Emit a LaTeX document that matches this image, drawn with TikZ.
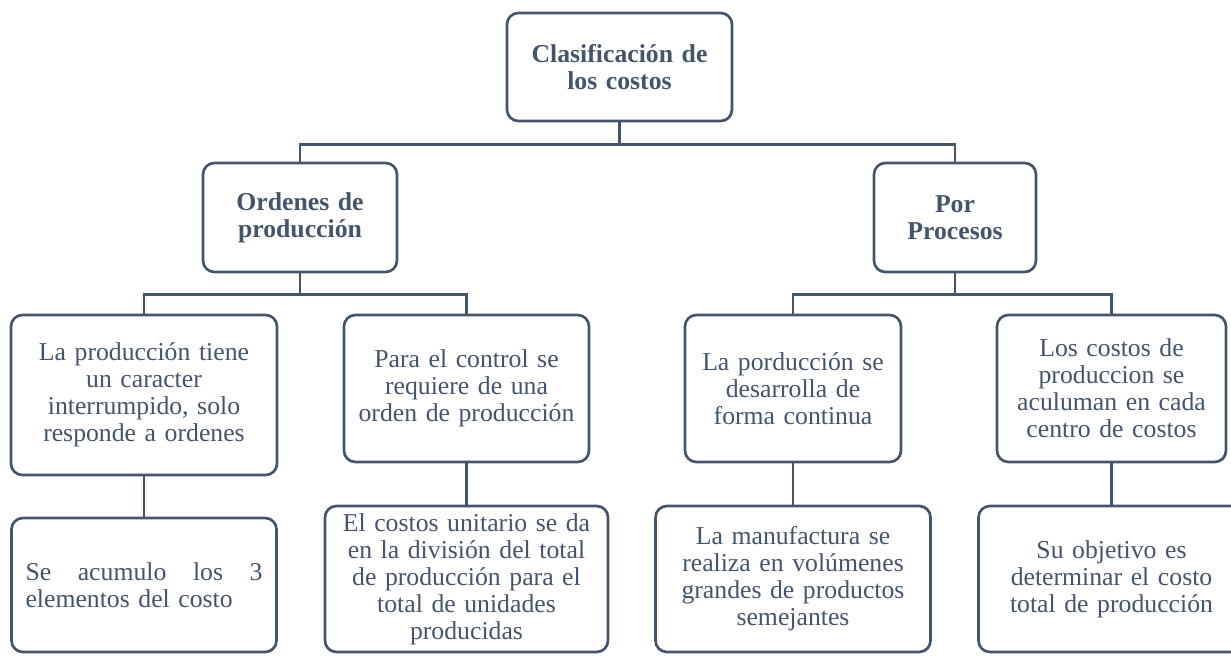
\documentclass[tikz,border=0pt]{standalone}
\usepackage{fontspec}
\setmainfont{Liberation Serif}
\usepackage{tikz}
\usetikzlibrary{positioning}
\definecolor{pizarra}{HTML}{44546A}

\begin{document}
\begin{tikzpicture}[x=0.75pt, y=-0.75pt,
    caja/.style={draw=pizarra, text=pizarra, line width=2pt, rounded corners=8.5pt,
                 align=center, inner xsep=6pt, inner ysep=2pt,
                 font=\fontsize{19.3}{20.25}\selectfont},
    titulo/.style={caja, font=\fontsize{19.3}{20.25}\selectfont\bfseries},
    rama/.style={draw=pizarra, line width=2pt}]
    \useasboundingbox (0,0) rectangle (1231,656);

    % root box
    \node[titulo, text width=156.75pt, minimum height=81pt] (clasif) at (619.5,67) {
        Clasificación de\\los costos
    };

    % second level
    \node[titulo, text width=133.5pt, minimum height=81.75pt] (ordenes) at (300,217.5) {
        Ordenes de\\producción
    };
    \node[titulo, text width=109.5pt, minimum height=81.75pt] (procesos) at (955,217.5) {
        Por\\Procesos
    };

    % ordenes de produccion branch
    \node[caja, text width=187.5pt, minimum height=120pt] (ordA) at (144,395) {
        La producción tiene\\un caracter\\interrumpido, solo\\responde a ordenes
    };
    \node[caja, text width=171.75pt, minimum height=110.25pt] (ordB) at (466.5,388.5) {
        Para el control se\\requiere de una\\orden de producción
    };
    \node[caja, align=left, inner xsep=10.5pt, text width=177.75pt, minimum height=100.5pt] (ordA2) at (144,585) {
        Se\hfill acumulo\hfill los\hfill 3\\elementos del costo
    };
    \node[caja, text width=200.25pt, minimum height=109.5pt] (ordB2) at (466.5,579) {
        El costos unitario se da\\en la división del total\\de producción para el\\total de unidades\\producidas
    };

    % por procesos branch
    \node[caja, text width=150pt, minimum height=110.25pt] (procA) at (793,388.5) {
        La porducción se\\desarrolla de\\forma continua
    };
    \node[caja, text width=159.75pt, minimum height=110.25pt] (procB) at (1111.5,388.5) {
        Los costos de\\produccion se\\aculuman en cada\\centro de costos
    };
    \node[caja, text width=194.25pt, minimum height=109.5pt] (procA2) at (793,579) {
        La manufactura se\\realiza en volúmenes\\grandes de productos\\semejantes
    };
    \node[caja, text width=187.5pt, minimum height=109.5pt] (procB2) at (1111.5,579) {
        Su objetivo es\\determinar el costo\\total de producción
    };

    % connectors
    \draw[rama] (clasif.south) -- ++(0,22) -| (ordenes.north);
    \draw[rama] (clasif.south) ++(0,22) -| (procesos.north);
    \draw[rama] (ordenes.south) -- ++(0,21) -| (ordA.north);
    \draw[rama] (ordenes.south) ++(0,21) -| (ordB.north);
    \draw[rama] (procesos.south) -- ++(0,21) -| (procA.north);
    \draw[rama] (procesos.south) ++(0,21) -| (procB.north);
    \draw[rama] (ordA.south) -- (ordA2.north);
    \draw[rama] (ordB.south) -- (ordB2.north);
    \draw[rama] (procA.south) -- (procA2.north);
    \draw[rama] (procB.south) -- (procB2.north);
\end{tikzpicture}
\end{document}
